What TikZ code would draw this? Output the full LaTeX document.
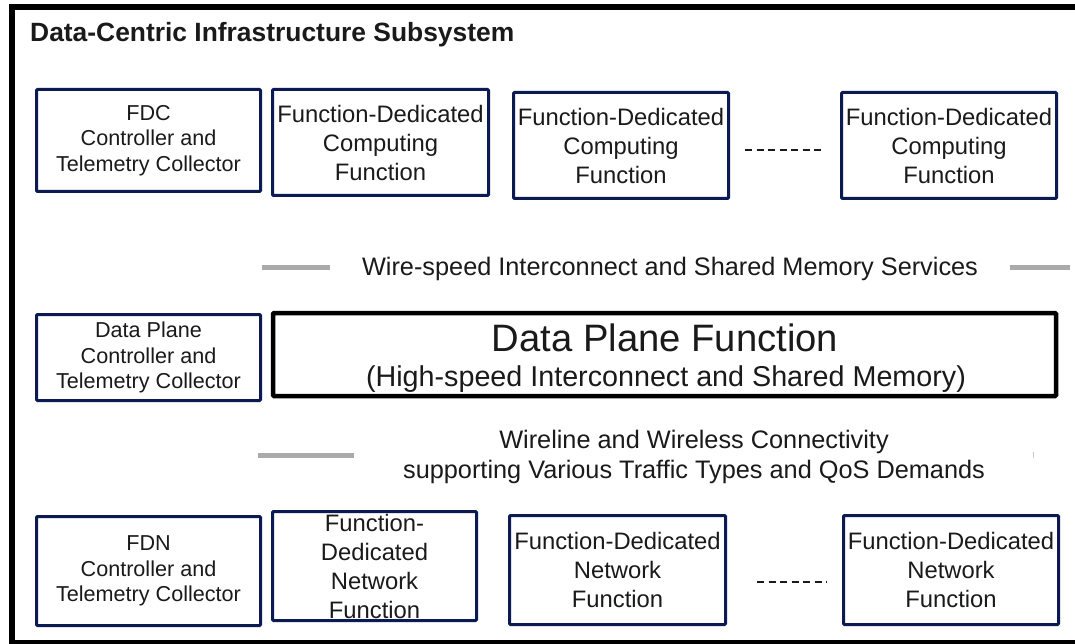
\documentclass[tikz,border=0pt]{standalone}
\usepackage{fontspec}
\setmainfont{Liberation Sans}
\definecolor{navy}{HTML}{0C1A52}
\definecolor{txt}{HTML}{1A1A1A}
\definecolor{gline}{HTML}{AAAAAA}
\begin{document}
\begin{tikzpicture}[x=1pt,y=-1pt,
  box/.style={draw=navy,line width=3pt,rounded corners=1pt,inner sep=0pt,align=center,text=txt},
  ctrl/.style={box,minimum width=224pt,font=\fontsize{21.6}{25.5}\selectfont},
  fbox/.style={box,font=\fontsize{23.8}{29}\selectfont},
  lbl/.style={text=txt,inner sep=0pt,align=center,font=\fontsize{25.3}{30}\selectfont},
  gray line/.style={draw=gline,line width=5pt},
  dots/.style={draw=txt,line width=1.8pt,dash pattern=on 7pt off 4.5pt}]
\useasboundingbox (0,0) rectangle (1075,644);
\fill[white] (0,0) rectangle (1075,644);
% outer frame
\draw[line width=6.5pt] (1080,7) -- (12,7) -- (12,643) -- (1080,643);
\node[anchor=base west,inner sep=0pt,text=txt,font=\fontsize{26.4}{30}\selectfont\bfseries] (title) at (30,42) {Data-Centric Infrastructure Subsystem};
% top row
\node[ctrl,minimum height=102pt] (fdc) at (148.5,140.5) {FDC\\Controller and\\Telemetry Collector};
\node[fbox,minimum width=216pt,minimum height=106pt] (fdcf1) at (380.5,142.5) {Function-Dedicated\\Computing\\Function};
\node[fbox,minimum width=215pt,minimum height=106pt] (fdcf2) at (621,145.5) {Function-Dedicated\\Computing\\Function};
\node[fbox,minimum width=215pt,minimum height=106pt] (fdcf3) at (949,145.5) {Function-Dedicated\\Computing\\Function};
\draw[dots] ([xshift=15pt]fdcf2.east |- 0,150) -- ([xshift=-15pt]fdcf3.west |- 0,150);
% wire-speed
\node[lbl,anchor=base] (ws) at (670,275) {Wire-speed Interconnect and Shared Memory Services};
\coordinate (g1a) at (262,267); \coordinate (g1b) at (330,267);
\coordinate (g2a) at (1010,267); \coordinate (g2b) at (1070,267);
\draw[gray line] (g1a) -- (g1b);
\draw[gray line] (g2a) -- (g2b);
% data plane row
\node[ctrl,minimum height=86pt] (dpc) at (148.5,357.5) {Data Plane\\Controller and\\Telemetry Collector};
\node[draw=black,line width=4.5pt,rounded corners=1pt,minimum width=783pt,minimum height=83pt,inner sep=0pt] (dpf) at (664.5,354.5) {};
\node[text=txt,inner sep=0pt,anchor=base,font=\fontsize{38.2}{40}\selectfont] (dpft) at (665,351) {Data Plane Function};
\node[text=txt,inner sep=0pt,anchor=base,font=\fontsize{28.7}{32}\selectfont] (dpfs) at (666,386) {(High-speed Interconnect and Shared Memory)};
% wireline
\node[lbl,anchor=base] (wl) at (694,478) {Wireline and Wireless Connectivity\\supporting Various Traffic Types and QoS Demands};
\coordinate (g3a) at (258,455); \coordinate (g3b) at (354,455);
\draw[gray line] (g3a) -- (g3b);
\coordinate (t1) at (1033,452); \coordinate (t2) at (1033,458);
\draw[draw=gline!60,line width=1pt] (t1) -- (t2);
% bottom row
\node[ctrl,minimum height=109pt] (fdn) at (148.5,571) {FDN\\Controller and\\Telemetry Collector};
\node[box,minimum width=204pt,minimum height=109pt] (fdnf1) at (374.5,566) {};
\node[text=txt,inner sep=0pt,align=center,font=\fontsize{23.8}{29}\selectfont] (fdnf1t) at (fdnf1.center) {Function-\\Dedicated\\Network\\Function};
\node[fbox,minimum width=216pt,minimum height=109pt] (fdnf2) at (617.5,570) {Function-Dedicated\\Network\\Function};
\node[fbox,minimum width=215pt,minimum height=109pt] (fdnf3) at (951,570) {Function-Dedicated\\Network\\Function};
\draw[dots] ([xshift=30pt]fdnf2.east |- 0,582) -- ([xshift=-15pt]fdnf3.west |- 0,582);
\end{tikzpicture}
\end{document}
